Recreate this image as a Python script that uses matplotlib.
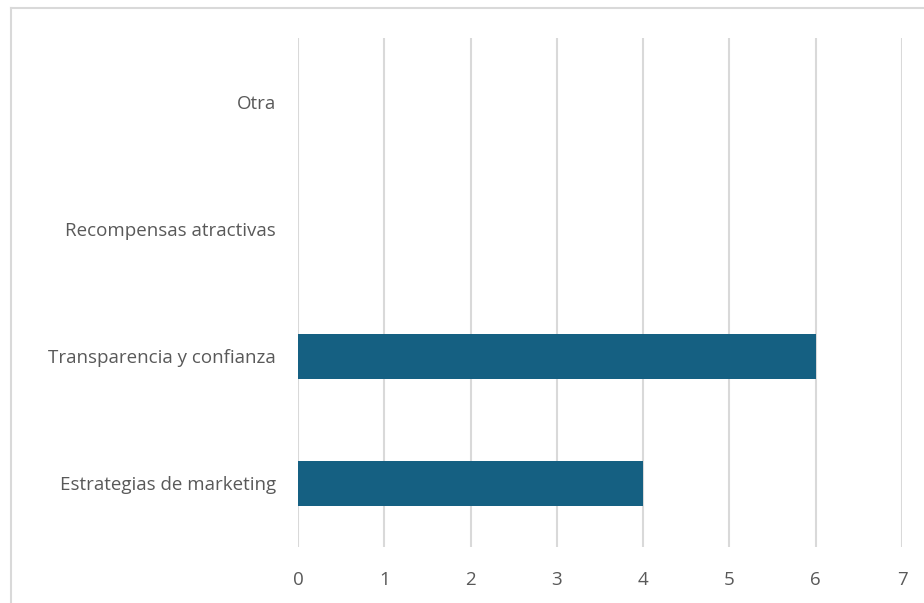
import matplotlib.pyplot as plt
from matplotlib.lines import Line2D

# Categories from bottom to top, with their counts
categorias = ['Estrategias de marketing', 'Transparencia y confianza',
              'Recompensas atractivas', 'Otra']
valores = [4, 6, 0, 0]
ticks_x = [0, 1, 2, 3, 4, 5, 6, 7]

plt.rcParams['font.family'] = ['Open Sans', 'DejaVu Sans']

fig = plt.figure(figsize=(9.24, 6.03), dpi=100)
ax = fig.add_axes([298/924, 1 - 547/603, 604/924, 509/603])

pos = list(range(len(categorias)))
ax.barh(pos, valores, height=0.355, color='#156082', zorder=3)

ax.set_xlim(0, 7)
ax.set_ylim(-0.5, len(categorias) - 0.5)
ax.set_xticks(ticks_x)
ax.set_yticks(pos)
ax.set_yticklabels(categorias)

ax.grid(axis='x', color='#d9d9d9', linewidth=1.5, zorder=0)
for s in ax.spines.values():
    s.set_visible(False)
ax.tick_params(axis='both', length=0, labelcolor='#595959', labelsize=13.5)
ax.tick_params(axis='x', pad=17)
ax.tick_params(axis='y', pad=16)

# chart area border (top and left edges)
fig.add_artist(Line2D([11/924, 1.0], [1 - 8/603, 1 - 8/603],
                      transform=fig.transFigure, color='#d9d9d9', linewidth=1.5))
fig.add_artist(Line2D([11/924, 11/924], [0, 1 - 8/603],
                      transform=fig.transFigure, color='#d9d9d9', linewidth=1.5))

fig.savefig('out.png', dpi=100, facecolor='white')
